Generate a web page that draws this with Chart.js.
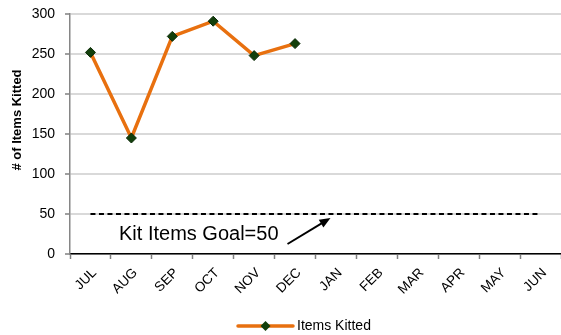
<!DOCTYPE html>
<html>
<head>
<meta charset="utf-8">
<script src="https://cdn.jsdelivr.net/npm/chart.js@4/dist/chart.umd.min.js"></script>
<style>
  html, body { margin: 0; padding: 0; background: #fff; }
  #wrap { width: 561px; height: 335px; position: relative; }
</style>
</head>
<body>
<div id="wrap"><canvas id="c" width="561" height="335"></canvas></div>
<script>
// Months of the fiscal year
const months = ['JUL', 'AUG', 'SEP', 'OCT', 'NOV', 'DEC', 'JAN', 'FEB', 'MAR', 'APR', 'MAY', 'JUN'];
// Items kitted per month (only the first half reported)
const itemsKitted = [252, 145, 272, 291, 248, 263, null, null, null, null, null, null];
// Monthly kitting goal
const goalValue = 50;
const goalLine = [50, 50, 50, 50, 50, 50, 50, 50, 50, 50, 50, 50];
// Y axis ticks
const yTicks = [0, 50, 100, 150, 200, 250, 300];

const seriesLabel = 'Items Kitted';
const axisTitle = '# of Items Kitted';
const goalText = 'Kit Items Goal=' + goalValue;

const ORANGE = '#E8700F';
const MARKER = '#123F0B';
const FONT = 'Arial, "Liberation Sans", sans-serif';

// Draws the rotated axis title, the goal annotation with its arrow and the legend
const extras = {
  id: 'extras',
  afterDraw(chart) {
    const ctx = chart.ctx;
    const x = chart.scales.x, y = chart.scales.y;
    ctx.save();

    // y axis title
    ctx.translate(17, y.getPixelForValue(150) - 14);
    ctx.rotate(-Math.PI / 2);
    ctx.font = 'bold 13px ' + FONT;
    ctx.fillStyle = '#000';
    ctx.textAlign = 'center';
    ctx.textBaseline = 'middle';
    ctx.fillText(axisTitle, 0, 0);
    ctx.setTransform(1, 0, 0, 1, 0, 0);

    // goal annotation text
    const yGoal = y.getPixelForValue(goalValue);
    ctx.font = '20px ' + FONT;
    ctx.textAlign = 'left';
    ctx.textBaseline = 'alphabetic';
    ctx.fillText(goalText, 119, yGoal + 26);

    // arrow pointing at the goal line
    const tipX = (x.getPixelForValue(5) + x.getPixelForValue(6)) / 2 + 15;
    const tipY = yGoal + 4;
    const fromX = tipX - 43, fromY = tipY + 26;
    const ang = Math.atan2(tipY - fromY, tipX - fromX);
    ctx.strokeStyle = '#000';
    ctx.lineWidth = 2;
    ctx.beginPath();
    ctx.moveTo(fromX, fromY);
    ctx.lineTo(tipX - 8 * Math.cos(ang), tipY - 8 * Math.sin(ang));
    ctx.stroke();
    ctx.beginPath();
    ctx.moveTo(tipX, tipY);
    ctx.lineTo(tipX - 11 * Math.cos(ang) + 4.5 * Math.sin(ang), tipY - 11 * Math.sin(ang) - 4.5 * Math.cos(ang));
    ctx.lineTo(tipX - 11 * Math.cos(ang) - 4.5 * Math.sin(ang), tipY - 11 * Math.sin(ang) + 4.5 * Math.cos(ang));
    ctx.closePath();
    ctx.fillStyle = '#000';
    ctx.fill();

    // legend: line sample with marker, then label
    const ly = 326;
    const lx0 = 238, lx1 = 293;
    ctx.strokeStyle = ORANGE;
    ctx.lineWidth = 3.5;
    ctx.lineCap = 'round';
    ctx.beginPath();
    ctx.moveTo(lx0, ly);
    ctx.lineTo(lx1, ly);
    ctx.stroke();
    const mx = (lx0 + lx1) / 2;
    ctx.beginPath();
    ctx.moveTo(mx, ly - 5);
    ctx.lineTo(mx + 5, ly);
    ctx.lineTo(mx, ly + 5);
    ctx.lineTo(mx - 5, ly);
    ctx.closePath();
    ctx.fillStyle = MARKER;
    ctx.fill();
    ctx.font = '14px ' + FONT;
    ctx.fillStyle = '#000';
    ctx.textBaseline = 'middle';
    ctx.fillText(seriesLabel, 297, ly);
    ctx.restore();
  }
};

new Chart(document.getElementById('c'), {
  type: 'line',
  data: {
    labels: months,
    datasets: [
      {
        label: seriesLabel,
        data: itemsKitted,
        borderColor: ORANGE,
        borderWidth: 3.5,
        backgroundColor: MARKER,
        pointStyle: 'rectRot',
        pointRadius: 5,
        pointBackgroundColor: MARKER,
        pointBorderColor: '#0B2A07',
        pointBorderWidth: 1,
        spanGaps: false,
        tension: 0,
        order: 0
      },
      {
        label: 'Goal',
        data: goalLine,
        borderColor: '#000',
        borderWidth: 2,
        borderDash: [5, 3.5],
        pointRadius: 0,
        tension: 0,
        order: 1
      }
    ]
  },
  options: {
    responsive: false,
    animation: false,
    devicePixelRatio: 1,
    layout: { autoPadding: false, padding: { top: 14, right: 0, left: 0, bottom: 25 } },
    plugins: {
      legend: { display: false },
      tooltip: { enabled: false },
      title: { display: false }
    },
    scales: {
      x: {
        type: 'category',
        offset: true,
        grid: {
          display: true,
          offset: true,
          drawOnChartArea: false,
          drawTicks: true,
          tickLength: 5,
          tickColor: '#808080',
          tickWidth: 1.5
        },
        border: { display: true, color: '#000', width: 1.5 },
        ticks: {
          color: '#000',
          font: { family: FONT, size: 13.5 },
          minRotation: 45,
          maxRotation: 45,
          autoSkip: false,
          padding: 6,
          labelOffset: 4
        },
        afterFit(scale) {
          scale.height = 56;
          scale.paddingLeft = 0;
          scale.paddingRight = 0;
        }
      },
      y: {
        min: 0,
        max: 300,
        afterBuildTicks(scale) { scale.ticks = yTicks.map(v => ({ value: v })); },
        grid: {
          color: '#D9D9D9',
          lineWidth: 2,
          drawTicks: true,
          tickLength: 5,
          tickColor: '#808080',
          tickWidth: 1.5
        },
        border: { display: true, color: '#868686', width: 1.5 },
        ticks: {
          color: '#000',
          font: { family: FONT, size: 14 },
          padding: 10
        },
        afterFit(scale) {
          scale.width = 70;
          scale.paddingTop = 0;
          scale.paddingBottom = 0;
        }
      }
    }
  },
  plugins: [extras]
});
</script>
</body>
</html>
